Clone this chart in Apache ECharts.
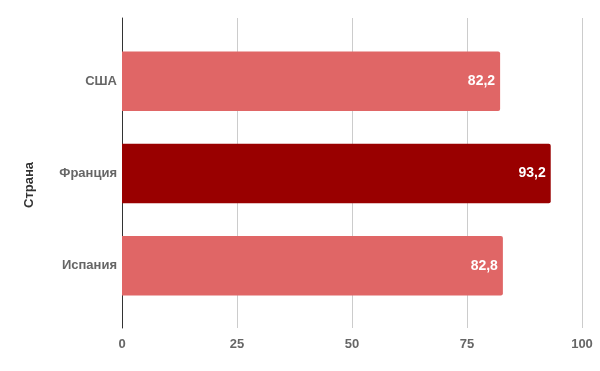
<!DOCTYPE html>
<html><head><meta charset="utf-8">
<script src="https://cdn.jsdelivr.net/npm/echarts@6/dist/echarts.min.js"></script>
<style>html,body{margin:0;padding:0;background:#fff}#c{width:600px;height:371px}</style>
</head><body><div id="c"></div>
<script>
const categories = ['США', 'Франция', 'Испания'];
const values = [82.2, 93.2, 82.8];
const barColors = ['#e06666', '#990000', '#e06666'];
const xTicks = [0, 25, 50, 75, 100];
const axisTitle = 'Страна';

const chart = echarts.init(document.getElementById('c'), null, {renderer: 'canvas'});
const font = 'Liberation Sans, Arial, sans-serif';
chart.setOption({
  animation: false,
  grid: [
    {left: 122, right: 18, top: 18, bottom: 43},
    {left: 122, right: 18, top: 35, bottom: 59}
  ],
  xAxis: [
    {gridIndex: 0, type: 'value', min: xTicks[0], max: xTicks[xTicks.length - 1], interval: 25,
     axisLine: {show: false}, axisTick: {show: false},
     splitLine: {show: true, lineStyle: {color: '#cccccc', width: 1}},
     axisLabel: {color: '#666666', fontWeight: 'bold', fontSize: 13, fontFamily: font, margin: 10}},
    {gridIndex: 1, type: 'value', min: 0, max: 100, show: false}
  ],
  yAxis: [
    {gridIndex: 0, type: 'category', data: categories, inverse: true,
     axisLine: {show: true, lineStyle: {color: '#333333', width: 1}},
     axisTick: {show: false}, axisLabel: {show: false}, splitLine: {show: false}},
    {gridIndex: 1, type: 'category', data: categories, inverse: true,
     axisLine: {show: false}, axisTick: {show: false},
     axisLabel: {color: '#666666', fontWeight: 'bold', fontSize: 13, fontFamily: font, margin: 5, padding: [3, 0, 0, 0]}}
  ],
  graphic: [{
    type: 'text', x: 29, y: 185, rotation: Math.PI / 2,
    style: {text: axisTitle, fill: '#333333', font: 'bold 13px ' + font, align: 'center', verticalAlign: 'middle'}
  }],
  series: [{
    type: 'bar', xAxisIndex: 1, yAxisIndex: 1,
    data: values.map((v, i) => ({value: v, itemStyle: {color: barColors[i]}})),
    barWidth: 59.5,
    itemStyle: {borderRadius: [0, 2, 2, 0]},
    label: {show: true, position: 'insideRight', distance: 5, color: '#ffffff', fontWeight: 'bold',
      fontSize: 14, fontFamily: font,
      formatter: p => String(p.value.toFixed(1)).replace('.', ',')}
  }]
});
</script></body></html>
